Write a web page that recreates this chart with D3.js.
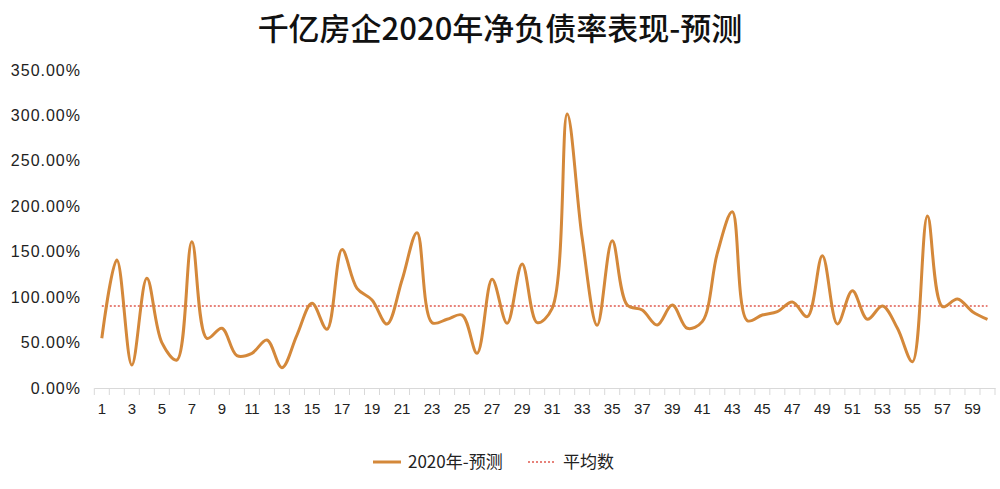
<!DOCTYPE html>
<html><head><meta charset="utf-8">
<script src="https://cdn.jsdelivr.net/npm/d3@7"></script>
<style>body{margin:0;background:#fff}svg{display:block}</style>
</head><body>
<svg id="c" width="1000" height="489"></svg>
<script>
const categories = d3.range(1, 61);
const seriesName = "2020年-预测";
const avgName = "平均数";
const values = [54.7,140.9,25.3,120.7,50,30.8,161,54.7,65.7,35.6,
  38.2,52.8,22.4,58.3,93.2,64.6,152.3,109.7,96.9,70.4,
  118.9,171,71.9,75.6,80.3,38.2,119.6,71.2,136.5,71.9,
  87.7,301.6,165,69,162.1,91.3,85.8,69.3,91.3,65.7,
  73,148.2,194,74.1,80.3,84,94.7,78.5,145.6,70.4,
  107.1,75.6,90.2,65.7,29,189.3,89.5,98,84,75.6];
const average = 90.3;
const yTicks = [0,50,100,150,200,250,300,350];
const title = "千亿房企2020年净负债率表现-预测";

const svg = d3.select("#c");
const font = "'Noto Sans CJK SC','Noto Sans',sans-serif";
const latin = "'Liberation Sans','Noto Sans CJK SC',sans-serif";
const x = d3.scaleBand().domain(categories).range([94.3, 995]);
const y = d3.scaleLinear().domain([0, 350]).range([388, 70]);

svg.append("text").attr("x", 500).attr("y", 40).attr("text-anchor", "middle")
  .attr("font-family", font).attr("font-size", 31).attr("font-weight", 500)
  .attr("fill", "#111").text(title);

// y axis labels
const ya = svg.append("g").attr("transform", "translate(81,0)")
  .call(d3.axisLeft(y).tickValues(yTicks).tickSize(0).tickPadding(0)
    .tickFormat(d => d3.format(".2f")(d) + "%"));
ya.select(".domain").remove();
ya.selectAll("text").attr("font-family", latin).attr("font-size", 16)
  .attr("letter-spacing", 1).attr("fill", "#222");

// x axis
const xa = svg.append("g").attr("transform", "translate(0,388)")
  .call(d3.axisBottom(x).tickSize(0).tickPadding(15)
    .tickFormat(d => d % 2 === 1 ? d : ""));
xa.select(".domain").attr("stroke", "#d9d9d9");
xa.selectAll("text").attr("font-family", latin).attr("font-size", 15).attr("fill", "#222");
xa.selectAll(".bound").data(categories.concat([61])).enter().append("line")
  .attr("x1", d => d <= 60 ? x(d) : x(60) + x.bandwidth())
  .attr("x2", d => d <= 60 ? x(d) : x(60) + x.bandwidth())
  .attr("y1", 0).attr("y2", 7).attr("stroke", "#d9d9d9");

// average line
svg.append("line").attr("x1", x(1) + x.bandwidth()/2).attr("x2", x(60) + x.bandwidth()/2)
  .attr("y1", y(average)).attr("y2", y(average))
  .attr("stroke", "#e05a4f").attr("stroke-width", 1.5).attr("stroke-dasharray", "2,2");

// series line
const line = d3.line().x((d, i) => x(categories[i]) + x.bandwidth()/2).y(d => y(d))
  .curve(d3.curveCatmullRom.alpha(0.5));
svg.append("path").datum(values).attr("d", line).attr("fill", "none")
  .attr("stroke", "#d4883a").attr("stroke-width", 3).attr("stroke-linejoin", "round");

// legend
const lg = svg.append("g").attr("font-family", font).attr("font-size", 17).attr("fill", "#222");
lg.append("line").attr("x1", 373).attr("x2", 401).attr("y1", 462).attr("y2", 462)
  .attr("stroke", "#d4883a").attr("stroke-width", 3);
lg.append("text").attr("x", 408).attr("y", 468).text(seriesName);
lg.append("line").attr("x1", 528).attr("x2", 554).attr("y1", 462).attr("y2", 462)
  .attr("stroke", "#e05a4f").attr("stroke-width", 1.5).attr("stroke-dasharray", "2,2");
lg.append("text").attr("x", 563).attr("y", 468).text(avgName);
</script>
</body></html>
